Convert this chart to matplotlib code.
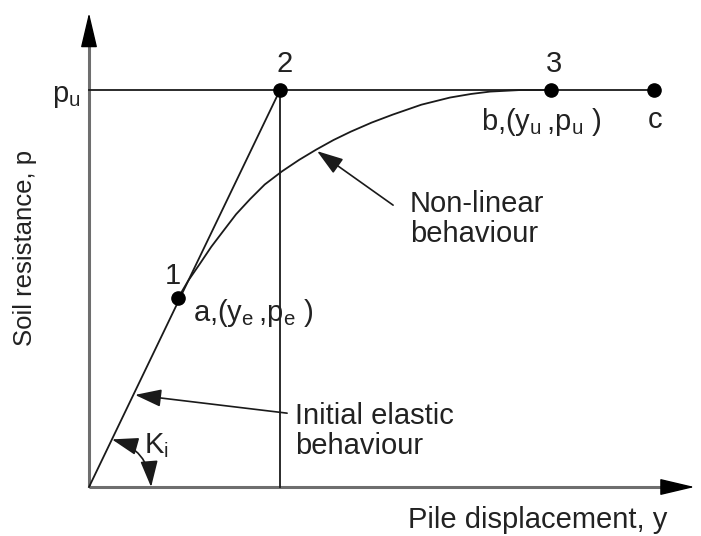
import matplotlib
matplotlib.use("Agg")
import matplotlib.pyplot as plt
from matplotlib.patches import FancyArrowPatch

plt.rcParams['font.family'] = ['Liberation Sans', 'DejaVu Sans']
plt.rcParams['mathtext.default'] = 'regular'

# p-y curve, normalised so that p_u = 1 and the elastic line reaches p_u at y = 1
p_u = 1.0
y_2 = 1.0
y_e, p_e = 0.466, 0.476
y_u = 2.42
y_c = 2.96

# non-linear branch from point 1 (a) up to point 3 (b)
curve_y = [0.466, 0.52, 0.58, 0.64, 0.70, 0.77, 0.843, 0.92, 1.01, 1.10, 1.19,
           1.28, 1.37, 1.48, 1.59, 1.74, 1.89, 2.00, 2.10, 2.26, 2.42]
curve_p = [0.476, 0.52, 0.562, 0.605, 0.643, 0.687, 0.725, 0.762, 0.795, 0.824,
           0.85, 0.874, 0.895, 0.918, 0.938, 0.963, 0.981, 0.99, 0.996, 1.0, 1.0]

x_axis_end = 3.17
y_axis_end = 1.194

fig = plt.figure(figsize=(7.01, 5.36), dpi=100)
ax = fig.add_axes([0, 0, 1, 1])
ax.set_xlim(-0.466, 3.204)
ax.set_ylim(-0.1234, 1.2267)
ax.axis('off')

FS = 21
ink = '#1a1a1a'
txt_col = '#222222'
axis_grey = '#6e6e6e'

# axes: grey shafts with black arrow heads
ax.plot([0, 0], [0, y_axis_end - 0.04], color=axis_grey, lw=2.2,
        solid_capstyle='butt', zorder=1)
ax.plot([0, x_axis_end - 0.08], [0, 0], color=axis_grey, lw=2.2,
        solid_capstyle='butt', zorder=1)
head_kw = dict(arrowstyle='-|>,head_length=1.1,head_width=0.26', color='black',
               lw=1.0, mutation_scale=20, shrinkA=0, shrinkB=0)
ax.annotate('', xy=(0, y_axis_end), xytext=(0, y_axis_end - 0.06),
            arrowprops=head_kw)
ax.annotate('', xy=(x_axis_end, 0), xytext=(x_axis_end - 0.12, 0),
            arrowprops=head_kw)

# p_u level, elastic line and the vertical through point 2
ax.plot([0, y_c], [p_u, p_u], color=ink, lw=1.3, zorder=2)
ax.plot([0, y_2], [0, p_u], color=ink, lw=1.3, zorder=2)
ax.plot([y_2, y_2], [p_u, 0], color=ink, lw=1.3, zorder=2)
ax.plot(curve_y, curve_p, color=ink, lw=1.3, zorder=2)

# key points
ax.plot([y_e, y_2, y_u, y_c], [p_e, p_u, p_u, p_u], 'o', color='black',
        ms=9.5, zorder=3)

def label(txt, xy, dx, dy, ha='center', va='center', size=FS):
    ax.annotate(txt, xy=xy, xytext=(dx, dy), textcoords='offset pixels',
                ha=ha, va=va, fontsize=size, color=txt_col)

label('1', (y_e, p_e), -5, 22)
label('2', (y_2, p_u), 5, 26)
label('3', (y_u, p_u), 3, 26)
label(r'a,(y$_e\,$,p$_e$ )', (y_e, p_e), 15, -15, ha='left')
label(r'b,(y$_u\,$,p$_u$ )', (y_u, p_u), -70, -32, ha='left')
label('c', (y_c, p_u), 1, -30)
label('p$_u$', (0, p_u), -8, -6, ha='right')

# callouts
arrow_kw = dict(arrowstyle='-|>,head_length=0.9,head_width=0.3', color=ink,
                lw=1.2, mutation_scale=18, shrinkA=0, shrinkB=0)
ax.annotate('', xy=(1.194, 0.846), xytext=(1.592, 0.710), arrowprops=arrow_kw)
ax.text(1.68, 0.748, 'Non-linear\nbehaviour', fontsize=FS, ha='left',
        va='top', color=txt_col, linespacing=1.1)

ax.annotate('', xy=(0.241, 0.232), xytext=(1.037, 0.186), arrowprops=arrow_kw)
ax.text(1.078, 0.214, 'Initial elastic\nbehaviour', fontsize=FS, ha='left',
        va='top', color=txt_col, linespacing=1.1)

# initial stiffness K_i marked with a double-headed arc
ki_arc = FancyArrowPatch((0.12, 0.12), (0.325, 0.0),
                         connectionstyle='arc3,rad=-0.35',
                         arrowstyle='<|-|>,head_length=0.9,head_width=0.3',
                         mutation_scale=18, color=ink, lw=1.2,
                         shrinkA=0, shrinkB=0, zorder=3)
ax.add_patch(ki_arc)
ax.text(0.29, 0.105, 'K$_i$', fontsize=FS, ha='left', va='center', color=txt_col)

# axis titles
fig.text(408 / 701, 1 - 520 / 536, 'Pile displacement, y', fontsize=FS,
         ha='left', va='center', color=txt_col)
fig.text(25 / 701, 1 - 248 / 536, 'Soil resistance, p', fontsize=18.5,
         rotation=90, ha='center', va='center', color=txt_col)

fig.savefig('out.png', dpi=100, facecolor='white')
